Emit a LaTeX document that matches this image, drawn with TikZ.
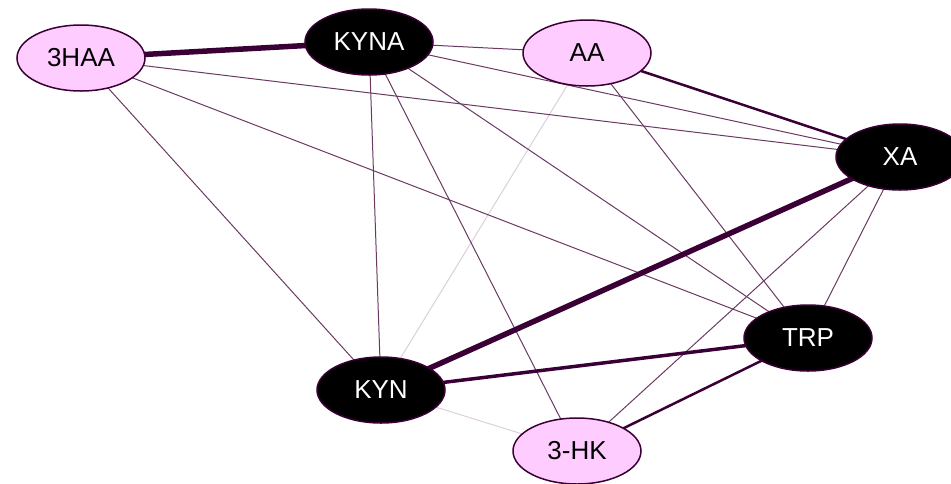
\documentclass[tikz,border=0pt]{standalone}
\usepackage{fontspec}
\setmainfont{Liberation Sans}
\usetikzlibrary{shapes.geometric,backgrounds}
\definecolor{pinkfill}{HTML}{FFCCFF}
\definecolor{nodeborder}{HTML}{3A0033}
\definecolor{thinedge}{HTML}{6A3A62}
\definecolor{thickedge}{HTML}{3A0036}
\definecolor{lightedge}{HTML}{DCCFDA}
\tikzset{
  nd/.style={ellipse, draw=nodeborder, line width=1.5pt, minimum width=128pt, minimum height=66pt, inner sep=0pt, font=\fontsize{26}{30}\selectfont},
  pinknd/.style={nd, fill=pinkfill, text=black},
  blacknd/.style={nd, fill=black, text=white},
  thinE/.style={draw=thinedge, line width=1pt},
  lightE/.style={draw=lightedge, line width=1pt},
  medE/.style={draw=thickedge, line width=2.5pt},
  midE/.style={draw=thickedge, line width=3.5pt},
  heavyE/.style={draw=thickedge, line width=5.5pt}
}
\begin{document}
\begin{tikzpicture}[x=1pt,y=-1pt]
\useasboundingbox (0,0) rectangle (951,483);
\clip (0,0) rectangle (951,483);
\node[pinknd] (h3aa) at (81,58) {3HAA};
\node[blacknd] (kyna) at (369,42) {KYNA};
\node[pinknd] (aa) at (587,53) {AA};
\node[blacknd] (xa) at (900,157) {XA};
\node[blacknd] (trp) at (808,338) {TRP};
\node[blacknd] (kyn) at (381,390) {KYN};
\node[pinknd] (hk) at (577,451) {3-HK};
\begin{pgfonlayer}{background}
\draw[lightE] (aa.center) -- (kyn.center);
\draw[lightE] (kyn.center) -- (hk.center);
\draw[thinE] (h3aa.center) -- (xa.center);
\draw[thinE] (h3aa.center) -- (trp.center);
\draw[thinE] (h3aa.center) -- (kyn.center);
\draw[thinE] (kyna.center) -- (aa.center);
\draw[thinE] (kyna.center) -- (xa.center);
\draw[thinE] (kyna.center) -- (trp.center);
\draw[thinE] (kyna.center) -- (kyn.center);
\draw[thinE] (kyna.center) -- (hk.center);
\draw[thinE] (aa.center) -- (trp.center);
\draw[thinE] (xa.center) -- (trp.center);
\draw[thinE] (xa.center) -- (hk.center);
\draw[medE] (aa.center) -- (xa.center);
\draw[medE] (trp.center) -- (hk.center);
\draw[midE] (kyn.center) -- (trp.center);
\draw[heavyE] (xa.center) -- (kyn.center);
\draw[heavyE] (h3aa.center) -- (kyna.center);
\end{pgfonlayer}
\end{tikzpicture}
\end{document}
